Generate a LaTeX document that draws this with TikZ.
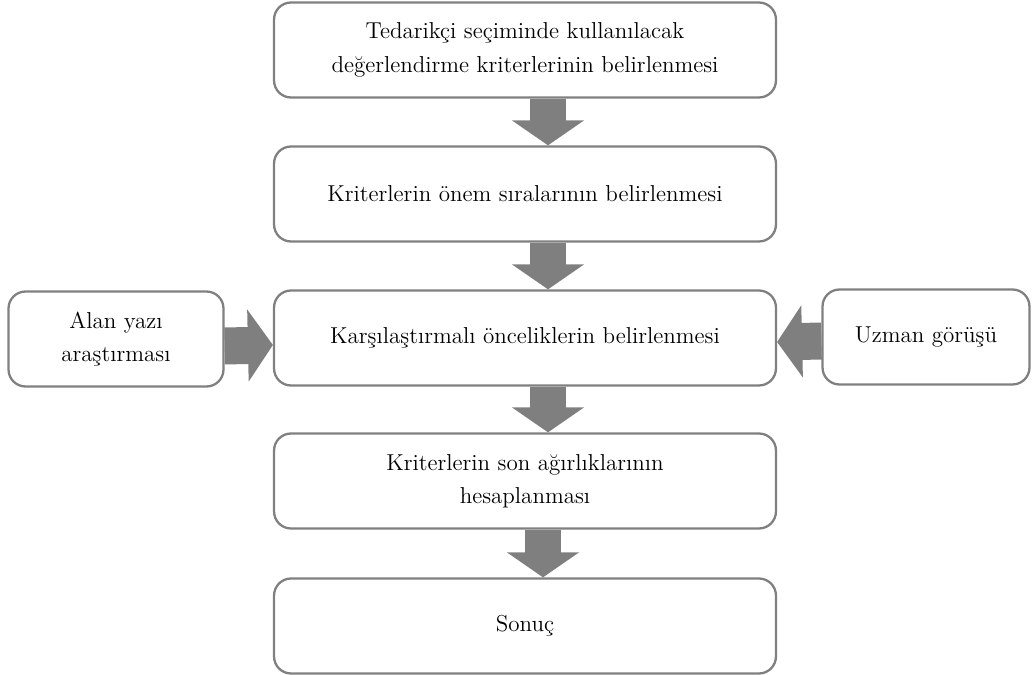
\documentclass[tikz,border=0pt]{standalone}
\usepackage{tikz}
\usetikzlibrary{arrows.meta}
\definecolor{boxgray}{RGB}{128,128,128}
\definecolor{arrowgray}{RGB}{127,127,127}
\tikzstyle{procBox} = [draw=boxgray, line width=1.3pt, rounded corners=0.34cm,
   fill=white, align=center, minimum width=10.04cm, minimum height=1.9cm,
   font=\fontsize{13.1}{19}\selectfont]
\tikzstyle{sideBox} = [procBox, minimum width=4.3cm]
\tikzstyle{fatArrow} = [draw=arrowgray, line width=0.74cm,
   -{Triangle[width=1.42cm,length=0.5cm]}]

\begin{document}
\begin{tikzpicture}[x=0.02cm,y=-0.02cm]
    \useasboundingbox (0,0) rectangle (1035,675);
    \node[procBox] (crit) at (525,50) {Tedarikçi seçiminde kullanılacak\\değerlendirme kriterlerinin belirlenmesi};
    \node[procBox] (rank) at (525,194) {Kriterlerin önem sıralarının belirlenmesi};
    \node[procBox] (comp) at (525,338) {Karşılaştırmalı önceliklerin belirlenmesi};
    \node[procBox] (weight) at (525,481) {Kriterlerin son ağırlıklarının\\hesaplanması};
    \node[procBox] (result) at (525,626) {Sonuç};
    \node[sideBox] (lit) at (116,339) {Alan yazı\\araştırması};
    \node[sideBox, minimum width=4.14cm] (expert) at (926,337) {Uzman görüşü};
    \draw [fatArrow] ([xshift=0.46cm]crit.south) -- ([xshift=0.46cm]rank.north);
    \draw [fatArrow] ([xshift=0.46cm]rank.south) -- ([xshift=0.46cm]comp.north);
    \draw [fatArrow] ([xshift=0.46cm]comp.south) -- ([xshift=0.46cm]weight.north);
    \draw [fatArrow] ([xshift=0.36cm]weight.south) -- ([xshift=0.36cm]result.north);
    \draw [fatArrow] ([yshift=-0.14cm]lit.east) -- ([yshift=-0.14cm]comp.west);
    \draw [fatArrow] ([yshift=-0.08cm]expert.west) -- ([yshift=-0.08cm]comp.east);
  \end{tikzpicture}
\end{document}
